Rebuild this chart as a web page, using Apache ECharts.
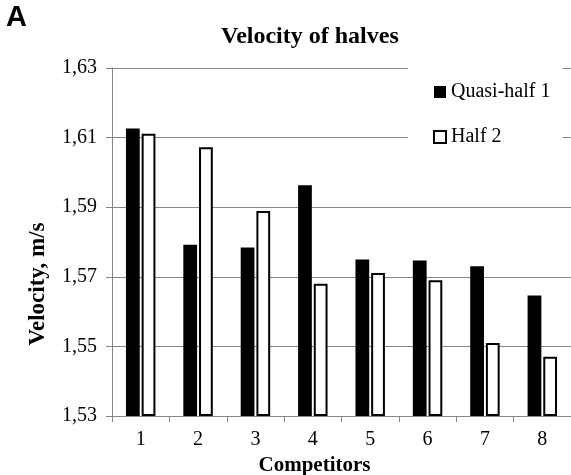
<!DOCTYPE html>
<html>
<head>
<meta charset="utf-8">
<script src="https://cdn.jsdelivr.net/npm/echarts@6/dist/echarts.min.js"></script>
<style>html,body{margin:0;padding:0;background:#fff}#c{width:571px;height:475px}</style>
</head>
<body>
<div id="c"></div>
<script>
var categories = ['1','2','3','4','5','6','7','8'];
var quasiHalf1 = [1.6126, 1.5792, 1.5784, 1.5963, 1.5750, 1.5747, 1.5730, 1.5646];
var half2 = [1.6111, 1.6072, 1.5889, 1.5680, 1.5711, 1.5690, 1.5510, 1.5470];
var yTickLabels = ['1,53','1,55','1,57','1,59','1,61','1,63'];
var axisBase = 1.53;

var font = 'Liberation Serif, Times New Roman, serif';
function rel(arr){ return arr.map(function(v){ return +(v - axisBase).toFixed(5); }); }

var chart = echarts.init(document.getElementById('c'), null, {renderer:'canvas'});
chart.setOption({
  animation: false,
  backgroundColor: '#fff',
  title: [
    {text: 'A', left: 6, top: 3, padding: 0, textStyle: {fontFamily: 'Liberation Sans, Arial, sans-serif', fontWeight: 'bold', fontSize: 29, color: '#000'}},
    {text: 'Velocity of halves', left: 221, top: 25, padding: 0, textStyle: {fontFamily: font, fontWeight: 'bold', fontSize: 24, color: '#000'}}
  ],
  legend: {
    orient: 'vertical',
    left: 408, top: 60,
    backgroundColor: '#fff',
    padding: [22, 12, 22, 25],
    itemGap: 25,
    itemWidth: 12, itemHeight: 12,
    icon: 'rect',
    z: 10,
    textStyle: {fontFamily: font, fontSize: 20, color: '#000'},
    data: ['Quasi-half 1', 'Half 2']
  },
  grid: {left: 112, top: 68, right: 0, bottom: 59, containLabel: false, outerBoundsMode: 'none'},
  xAxis: {
    type: 'category',
    data: categories,
    name: 'Competitors',
    nameLocation: 'middle',
    nameGap: 33,
    nameTextStyle: {fontFamily: font, fontWeight: 'bold', fontSize: 21, color: '#000', padding: [0, 54, 0, 0]},
    axisLine: {lineStyle: {color: '#868686', width: 1}},
    axisTick: {show: true, alignWithLabel: false, inside: false, length: 6, lineStyle: {color: '#868686'}},
    axisLabel: {fontFamily: font, fontSize: 20, color: '#000', margin: 14},
    splitLine: {show: false}
  },
  yAxis: {
    type: 'value',
    min: 0, max: 0.10, interval: 0.02,
    name: 'Velocity, m/s',
    nameLocation: 'middle',
    nameGap: 62,
    nameRotate: 90,
    nameTextStyle: {fontFamily: font, fontWeight: 'bold', fontSize: 23, color: '#000', padding: [0, 84, 0, 0]},
    axisLine: {show: true, lineStyle: {color: '#868686', width: 1}},
    axisTick: {show: true, length: 6, lineStyle: {color: '#868686'}},
    axisLabel: {fontFamily: font, fontSize: 20, color: '#000', margin: 15,
      formatter: function(v){ var i = Math.round(v / 0.02); return yTickLabels[i] || ''; }},
    splitLine: {show: true, lineStyle: {color: '#868686', width: 1}}
  },
  series: [
    {name: 'Quasi-half 1', type: 'bar', data: rel(quasiHalf1), barWidth: '24%', barGap: '14%',
      itemStyle: {color: '#000'}},
    {name: 'Half 2', type: 'bar', data: rel(half2), barWidth: '24%',
      itemStyle: {color: '#fff', borderColor: '#000', borderWidth: 2}}
  ]
});
</script>
</body>
</html>
